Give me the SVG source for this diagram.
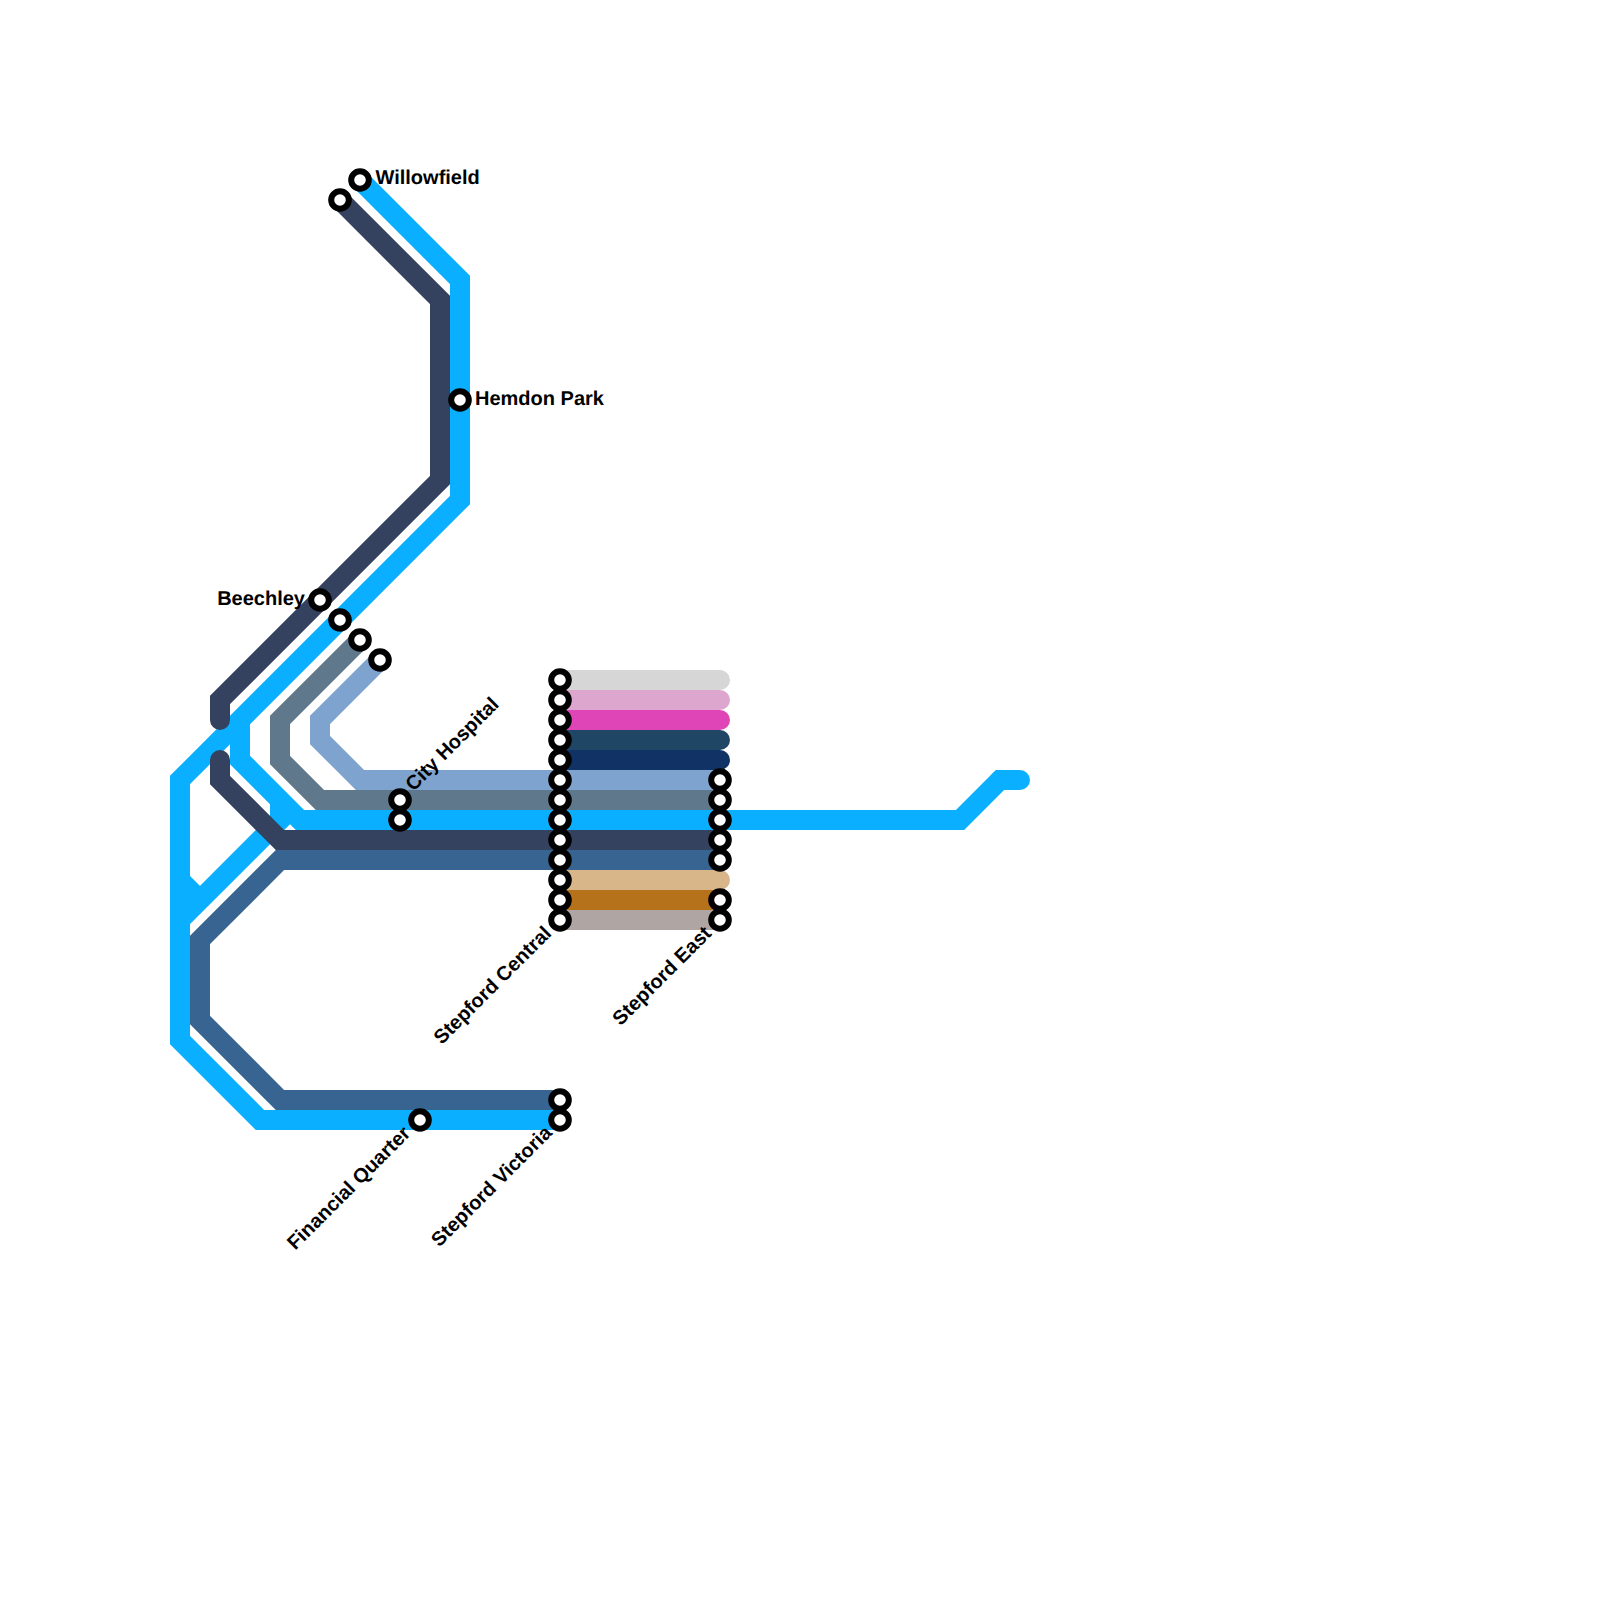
<svg xmlns="http://www.w3.org/2000/svg" width="1600" height="1600" viewBox="0 0 1600 1600">
<style>
.l{fill:none;stroke-width:20;stroke-linejoin:miter;stroke-linecap:butt}
.r{stroke-linecap:round}
.s{fill:#fff;stroke:#000;stroke-width:6}
.t{font-family:"Liberation Sans",Arial,sans-serif;font-weight:700;font-size:20px;fill:#000;text-rendering:geometricPrecision}
</style>
<rect width="1600" height="1600" fill="#fff"/>
<g id="connectors">
<path class="l r" stroke="#d6d6d6" d="M560 680H720"/>
<path class="l r" stroke="#dda6ce" d="M560 700H720"/>
<path class="l r" stroke="#e045b7" d="M560 720H720"/>
<path class="l r" stroke="#1f4665" d="M560 740H720"/>
<path class="l r" stroke="#103265" d="M560 760H720"/>
<path class="l r" stroke="#d9b68a" d="M560 880H720"/>
<path class="l" stroke="#b5721b" d="M560 900H720"/>
<path class="l" stroke="#afa5a3" d="M560 920H720"/>
<path class="l" stroke="#7fa3cf" d="M380 660L320 720V740L360 780H720"/>
<path class="l" stroke="#60788c" d="M360 640L280 720V760L320 800H720"/>
<path class="l" stroke="#0aafff" d="M360 180L460 280V500L180 780V1040L260 1120H560"/>
<path class="l" stroke="#0aafff" d="M240 720V760L300 820H960L1000 780H1020"/>
<path class="l" stroke="#0aafff" d="M180 880L200 900"/>
<path class="l" stroke="#0aafff" d="M180 920L280 820V800"/>
<path class="l" stroke="#386491" d="M560 1100H280L200 1020V940L280 860H720"/>
<path class="l r" stroke="#34425f" d="M340 200L440 300V480L220 700V720"/>
<path class="l r" stroke="#34425f" d="M220 760V780L280 840H700"/>
<path class="l" stroke="#34425f" d="M690 840H720"/>
<path class="l r" stroke="#0aafff" d="M1000 780H1020"/>
</g>
<g id="st-willowfield"><circle class="s" cx="360" cy="180" r="8.800"/><text class="t" x="375.500" y="184">Willowfield</text></g>
<g id="st-a"><circle class="s" cx="340" cy="200" r="8.800"/></g>
<g id="st-hemdon"><circle class="s" cx="460" cy="400" r="8.800"/><text class="t" x="475" y="404.500">Hemdon Park</text></g>
<g id="st-beechley"><circle class="s" cx="320" cy="600" r="8.800"/><text class="t" x="305" y="604.500" text-anchor="end">Beechley</text></g>
<g id="st-b"><circle class="s" cx="340" cy="620" r="8.800"/></g>
<g id="st-c"><circle class="s" cx="360" cy="640" r="8.800"/></g>
<g id="st-d"><circle class="s" cx="380" cy="660" r="8.800"/></g>
<g id="st-city"><circle class="s" cx="400" cy="800" r="8.800"/><circle class="s" cx="400" cy="820" r="8.800"/><text class="t" x="413.500" y="792" transform="rotate(-45 413.500 792)">City Hospital</text></g>
<g id="st-fq"><circle class="s" cx="420" cy="1120" r="8.800"/><text class="t" x="411.500" y="1134.500" text-anchor="end" transform="rotate(-45 411.500 1134.500)">Financial Quarter</text></g>
<g id="st-sv"><circle class="s" cx="560" cy="1100" r="8.800"/><circle class="s" cx="560" cy="1120" r="8.800"/><text class="t" x="553" y="1134" text-anchor="end" transform="rotate(-45 553 1134)">Stepford Victoria</text></g>
<g id="st-central">
<circle class="s" cx="560" cy="680" r="8.800"/><circle class="s" cx="560" cy="700" r="8.800"/><circle class="s" cx="560" cy="720" r="8.800"/><circle class="s" cx="560" cy="740" r="8.800"/><circle class="s" cx="560" cy="760" r="8.800"/><circle class="s" cx="560" cy="780" r="8.800"/><circle class="s" cx="560" cy="800" r="8.800"/><circle class="s" cx="560" cy="820" r="8.800"/><circle class="s" cx="560" cy="840" r="8.800"/><circle class="s" cx="560" cy="860" r="8.800"/><circle class="s" cx="560" cy="880" r="8.800"/><circle class="s" cx="560" cy="900" r="8.800"/><circle class="s" cx="560" cy="920" r="8.800"/>
<text class="t" x="552.500" y="934.500" text-anchor="end" transform="rotate(-45 552.500 934.500)">Stepford Central</text></g>
<g id="st-east">
<circle class="s" cx="720" cy="780" r="8.800"/><circle class="s" cx="720" cy="800" r="8.800"/><circle class="s" cx="720" cy="820" r="8.800"/><circle class="s" cx="720" cy="840" r="8.800"/><circle class="s" cx="720" cy="860" r="8.800"/><circle class="s" cx="720" cy="900" r="8.800"/><circle class="s" cx="720" cy="920" r="8.800"/>
<text class="t" x="712.500" y="934.500" text-anchor="end" transform="rotate(-45 712.500 934.500)">Stepford East</text></g>
</svg>
